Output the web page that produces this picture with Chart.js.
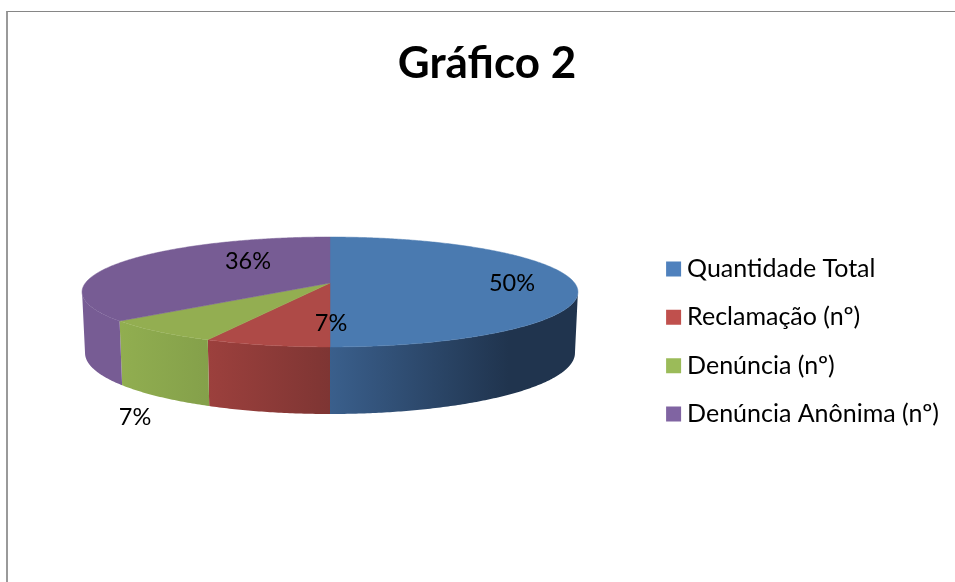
<!DOCTYPE html>
<html>
<head>
<meta charset="utf-8">
<title>Gráfico 2</title>
<script src="https://cdn.jsdelivr.net/npm/chart.js@4"></script>
<style>
  html, body { margin: 0; padding: 0; background: #fff; overflow: hidden; }
  #wrap { position: relative; width: 955px; height: 582px; }
  #frame { position: absolute; left: 6px; top: 11px; right: 0; bottom: 0; border-left: 2px solid #9a9a9a; border-top: 1px solid #868686; }
  canvas { position: absolute; left: 0; top: 0; }
</style>
</head>
<body>
<div id="wrap">
  <div id="frame"></div>
  <canvas id="pieChart" width="955" height="582"></canvas>
</div>
<script>
const categories = ['Quantidade Total', 'Reclamação (nº)', 'Denúncia (nº)', 'Denúncia Anônima (nº)'];
const percentValues = [50, 7, 7, 36];
const legendColors = ['#4f81bd', '#c0504d', '#9bbb59', '#8064a2'];
const topColors = ['#4a7ab0', '#ae4a47', '#93ae51', '#775c94'];
// side wall shading, left to right
const wallShades = [
  [[0, '#3a5f8c'], [0.72, '#20344e'], [1, '#20344e']],
  [[0, '#9c403d'], [1, '#7e3533']],
  [[0, '#91ae50'], [1, '#84a04a']],
  [[0, '#775c94'], [1, '#775c94']]
];
// hand placed percent labels, same order as the slices
const labelSpots = [[512, 283], [331, 323], [135, 417], [248, 261]];

// excel style perspective: circle seen from the front, apex is above the ellipse centre
const view = { cx: 330, cy: 283, r: 244.6, h: 53.5, k: 0.1636 };

function project(angle) {
  const s = Math.sin(angle);
  const d = 1 - view.k * s;
  return { x: view.cx + Math.cos(angle) * view.r / d, y: view.cy + s * view.h / d };
}

function projectBottom(angle) {
  const p = project(angle);
  const oy = p.y - view.cy;
  return { x: view.cx + (p.x - view.cx) * 0.988, y: view.cy + 60 + oy * 1.11 };
}

function steps(from, to) {
  const n = Math.max(2, Math.ceil((to - from) / 0.01));
  const out = [];
  for (let i = 0; i <= n; i++) out.push(from + (to - from) * i / n);
  return out;
}

const pie3d = {
  id: 'pie3d',
  beforeDatasetsDraw(chart) {
    const ctx = chart.ctx;
    const arcs = chart.getDatasetMeta(0).data;
    const edge = Math.asin(view.k);

    // walls first, only the part facing the viewer
    arcs.forEach((arc, i) => {
      const from = Math.max(arc.startAngle, edge);
      const to = Math.min(arc.endAngle, Math.PI - edge);
      if (to <= from) return;
      const angles = steps(from, to);
      const upper = angles.map(project);
      const lower = angles.map(projectBottom).reverse();
      const pts = upper.concat(lower);
      const xs = pts.map(p => p.x);
      const grad = ctx.createLinearGradient(Math.min(...xs), 0, Math.max(...xs), 0);
      wallShades[i].forEach(st => grad.addColorStop(st[0], st[1]));
      ctx.beginPath();
      pts.forEach((p, j) => j ? ctx.lineTo(p.x, p.y) : ctx.moveTo(p.x, p.y));
      ctx.closePath();
      ctx.fillStyle = grad;
      ctx.fill();
    });

    // top faces
    arcs.forEach((arc, i) => {
      ctx.beginPath();
      ctx.moveTo(view.cx, view.cy);
      steps(arc.startAngle, arc.endAngle).map(project).forEach(p => ctx.lineTo(p.x, p.y));
      ctx.closePath();
      ctx.fillStyle = topColors[i];
      ctx.strokeStyle = topColors[i];
      ctx.lineWidth = 0.5;
      ctx.fill();
      ctx.stroke();
    });

    return false; // the flat arcs are replaced by the faces above
  },
  afterDraw(chart) {
    const ctx = chart.ctx;
    ctx.save();
    ctx.font = '23.5px Lato';
    ctx.fillStyle = '#000';
    ctx.textAlign = 'center';
    ctx.textBaseline = 'middle';
    percentValues.forEach((v, i) => {
      ctx.fillText(v + '%', labelSpots[i][0], labelSpots[i][1]);
    });
    ctx.restore();
  }
};

new Chart(document.getElementById('pieChart').getContext('2d'), {
  type: 'pie',
  data: {
    labels: categories,
    datasets: [{
      data: percentValues,
      backgroundColor: legendColors
    }]
  },
  options: {
    responsive: false,
    animation: false,
    events: [],
    layout: { padding: { left: 25, right: 6, top: 0, bottom: -101 } },
    plugins: {
      tooltip: { enabled: false },
      title: {
        display: true,
        text: 'Gráfico 2',
        color: '#000',
        font: { family: 'Lato', size: 44, weight: 'bold' },
        padding: { top: 37, bottom: 20 }
      },
      legend: {
        position: 'right',
        labels: {
          color: '#000',
          font: { family: 'Lato', size: 25 },
          // small box + thick stroke keeps the text close to the swatch
          boxWidth: 2,
          boxHeight: 2,
          padding: 23.3,
          generateLabels(chart) {
            return categories.map((name, i) => ({
              text: name,
              fillStyle: legendColors[i],
              strokeStyle: legendColors[i],
              lineWidth: 13,
              index: i
            }));
          }
        }
      }
    }
  },
  plugins: [pie3d]
});
</script>
</body>
</html>
